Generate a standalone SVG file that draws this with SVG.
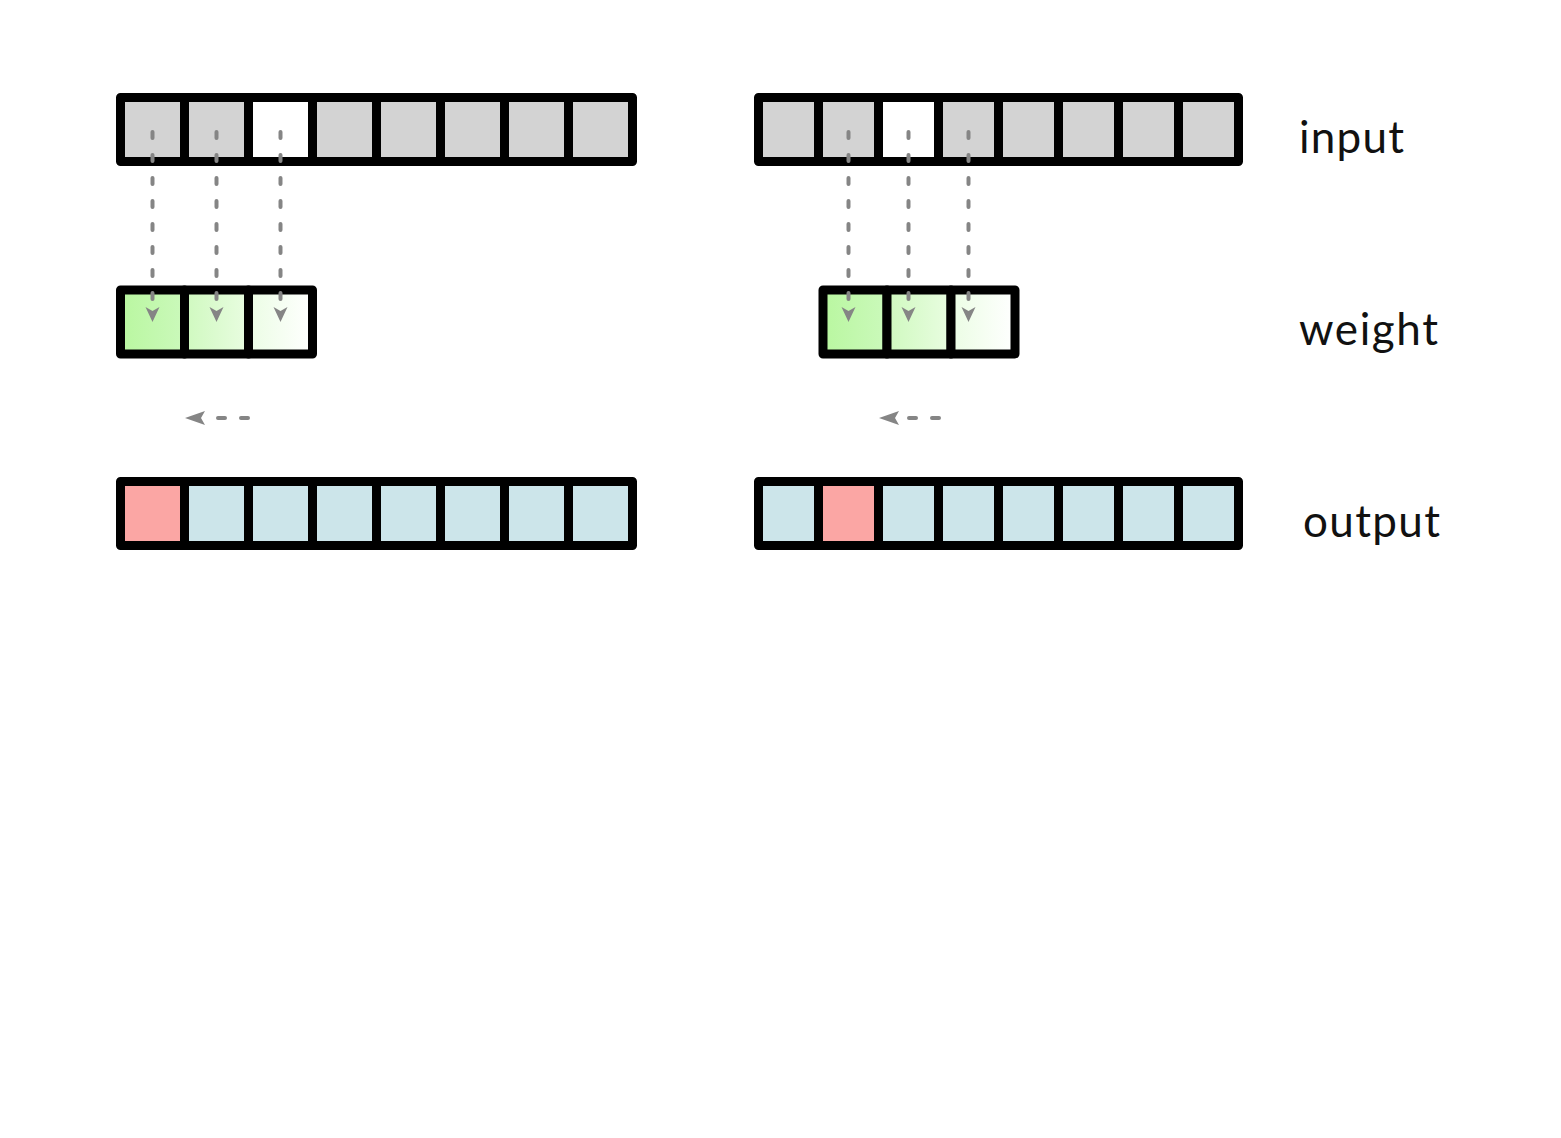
<svg xmlns="http://www.w3.org/2000/svg" width="1561" height="1138" viewBox="0 0 1561 1138">
<style>
.c{stroke:#000;stroke-width:9;stroke-linejoin:round}
.g{fill:#d3d3d3}.w{fill:#fff}.b{fill:#cce5ea}.r{fill:#fba6a4}
.d{stroke:#858585;stroke-width:4;stroke-linecap:round;stroke-dasharray:6 17;fill:none}
.ah{fill:#858585}
.t{font-family:Lato,"Open Sans",sans-serif;font-size:44px;fill:#111}
</style>
<defs>
<linearGradient id="g1" x1="0" y1="0" x2="1" y2="0"><stop offset="0" stop-color="#b9f7a0"/><stop offset="1" stop-color="#cbf9bb"/></linearGradient>
<linearGradient id="g2" x1="0" y1="0" x2="1" y2="0"><stop offset="0" stop-color="#cff9bf"/><stop offset="1" stop-color="#e9fde1"/></linearGradient>
<linearGradient id="g3" x1="0" y1="0" x2="1" y2="0"><stop offset="0" stop-color="#ebfde4"/><stop offset="1" stop-color="#ffffff"/></linearGradient>
<path id="adn" d="M-7,-15 L0,-11 L7,-15 L0,0 Z"/>
<path id="alf" d="M0,0 L20,-7 L16,0 L20,7 Z"/>
</defs>
<rect width="1561" height="1138" fill="#fff"/>

<g id="input-left">
<rect class="c g" x="120.5" y="97.5" width="64" height="64"/>
<rect class="c g" x="184.5" y="97.5" width="64" height="64"/>
<rect class="c w" x="248.5" y="97.5" width="64" height="64"/>
<rect class="c g" x="312.5" y="97.5" width="64" height="64"/>
<rect class="c g" x="376.5" y="97.5" width="64" height="64"/>
<rect class="c g" x="440.5" y="97.5" width="64" height="64"/>
<rect class="c g" x="504.5" y="97.5" width="64" height="64"/>
<rect class="c g" x="568.5" y="97.5" width="64" height="64"/>
</g>
<g id="weight-left">
<rect class="c" fill="url(#g1)" x="120.5" y="290" width="64" height="64"/>
<rect class="c" fill="url(#g2)" x="184.5" y="290" width="64" height="64"/>
<rect class="c" fill="url(#g3)" x="248.5" y="290" width="64" height="64"/>
</g>
<g id="output-left">
<rect class="c r" x="120.5" y="481.5" width="64" height="64"/>
<rect class="c b" x="184.5" y="481.5" width="64" height="64"/>
<rect class="c b" x="248.5" y="481.5" width="64" height="64"/>
<rect class="c b" x="312.5" y="481.5" width="64" height="64"/>
<rect class="c b" x="376.5" y="481.5" width="64" height="64"/>
<rect class="c b" x="440.5" y="481.5" width="64" height="64"/>
<rect class="c b" x="504.5" y="481.5" width="64" height="64"/>
<rect class="c b" x="568.5" y="481.5" width="64" height="64"/>
</g>

<g id="input-right">
<rect class="c g" x="758.5" y="97.5" width="60" height="64"/>
<rect class="c g" x="818.5" y="97.5" width="60" height="64"/>
<rect class="c w" x="878.5" y="97.5" width="60" height="64"/>
<rect class="c g" x="938.5" y="97.5" width="60" height="64"/>
<rect class="c g" x="998.5" y="97.5" width="60" height="64"/>
<rect class="c g" x="1058.5" y="97.5" width="60" height="64"/>
<rect class="c g" x="1118.5" y="97.5" width="60" height="64"/>
<rect class="c g" x="1178.5" y="97.5" width="60" height="64"/>
</g>
<g id="weight-right">
<rect class="c" fill="url(#g1)" x="823" y="290" width="64" height="64"/>
<rect class="c" fill="url(#g2)" x="887" y="290" width="64" height="64"/>
<rect class="c" fill="url(#g3)" x="951" y="290" width="64" height="64"/>
</g>
<g id="output-right">
<rect class="c b" x="758.5" y="481.5" width="60" height="64"/>
<rect class="c r" x="818.5" y="481.5" width="60" height="64"/>
<rect class="c b" x="878.5" y="481.5" width="60" height="64"/>
<rect class="c b" x="938.5" y="481.5" width="60" height="64"/>
<rect class="c b" x="998.5" y="481.5" width="60" height="64"/>
<rect class="c b" x="1058.5" y="481.5" width="60" height="64"/>
<rect class="c b" x="1118.5" y="481.5" width="60" height="64"/>
<rect class="c b" x="1178.5" y="481.5" width="60" height="64"/>
</g>

<g id="connectors">
<path class="d" d="M152.5,132 V300"/><use href="#adn" class="ah" x="152.5" y="322"/>
<path class="d" d="M216.5,132 V300"/><use href="#adn" class="ah" x="216.5" y="322"/>
<path class="d" d="M280.5,132 V300"/><use href="#adn" class="ah" x="280.5" y="322"/>
<path class="d" d="M848.5,132 V300"/><use href="#adn" class="ah" x="848.5" y="322"/>
<path class="d" d="M908.5,132 V300"/><use href="#adn" class="ah" x="908.5" y="322"/>
<path class="d" d="M968.5,132 V300"/><use href="#adn" class="ah" x="968.5" y="322"/>
<path class="d" d="M248,418 H216" style="stroke-dasharray:7 16"/><use href="#alf" class="ah" x="185" y="418"/>
<path class="d" d="M939,418 H909" style="stroke-dasharray:7 16"/><use href="#alf" class="ah" x="879" y="418"/>
</g>

<g id="labels">
<text class="t" x="1299" y="153" textLength="105" lengthAdjust="spacing">input</text>
<text class="t" x="1299" y="345" textLength="139" lengthAdjust="spacing">weight</text>
<text class="t" x="1303" y="537" textLength="137" lengthAdjust="spacing">output</text>
</g>
</svg>
